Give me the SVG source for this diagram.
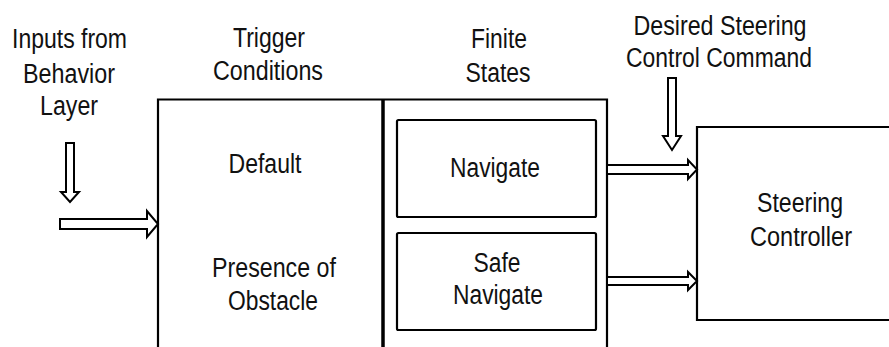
<svg xmlns="http://www.w3.org/2000/svg" width="889" height="347" viewBox="0 0 889 347">
<style>
.t{font-family:"Liberation Sans",Arial,sans-serif;font-size:27px;fill:#111;text-anchor:middle}
.b{fill:none;stroke:#000;stroke-width:2.2}
.a{fill:#fff;stroke:#000;stroke-width:2;stroke-linejoin:miter}
</style>
<rect width="889" height="347" fill="#fff"/>
<g id="labels">
<text class="t" x="69.5" y="48" textLength="115" lengthAdjust="spacingAndGlyphs">Inputs from</text>
<text class="t" x="69" y="83" textLength="92" lengthAdjust="spacingAndGlyphs">Behavior</text>
<text class="t" x="69" y="115" textLength="58" lengthAdjust="spacingAndGlyphs">Layer</text>
<text class="t" x="269" y="47" textLength="72" lengthAdjust="spacingAndGlyphs">Trigger</text>
<text class="t" x="268" y="80" textLength="110" lengthAdjust="spacingAndGlyphs">Conditions</text>
<text class="t" x="499" y="48" textLength="56" lengthAdjust="spacingAndGlyphs">Finite</text>
<text class="t" x="498" y="82" textLength="65" lengthAdjust="spacingAndGlyphs">States</text>
<text class="t" x="720" y="35" textLength="173" lengthAdjust="spacingAndGlyphs">Desired Steering</text>
<text class="t" x="719" y="67" textLength="186" lengthAdjust="spacingAndGlyphs">Control Command</text>
</g>
<g id="trigger-box">
<path class="b" d="M158,347 V99.5 H383"/>
<text class="t" x="265" y="173" textLength="73" lengthAdjust="spacingAndGlyphs">Default</text>
<text class="t" x="274" y="277" textLength="124" lengthAdjust="spacingAndGlyphs">Presence of</text>
<text class="t" x="273" y="310" textLength="90" lengthAdjust="spacingAndGlyphs">Obstacle</text>
</g>
<g id="states-box">
<path class="b" d="M383,99.5 H607 V347"/>
<line x1="383" y1="99" x2="383" y2="347" stroke="#000" stroke-width="3.5"/>
</g>
<g id="navigate">
<rect class="b" x="397" y="120" width="199" height="97" rx="1.5"/>
<text class="t" x="495" y="177" textLength="90" lengthAdjust="spacingAndGlyphs">Navigate</text>
</g>
<g id="safe-navigate">
<rect class="b" x="397" y="233" width="199" height="97" rx="1.5"/>
<text class="t" x="497" y="272" textLength="47" lengthAdjust="spacingAndGlyphs">Safe</text>
<text class="t" x="498" y="304" textLength="90" lengthAdjust="spacingAndGlyphs">Navigate</text>
</g>
<g id="steering-controller">
<path class="b" d="M889,127 H697 V320 H889"/>
<text class="t" x="800" y="212" textLength="86" lengthAdjust="spacingAndGlyphs">Steering</text>
<text class="t" x="801" y="246" textLength="102" lengthAdjust="spacingAndGlyphs">Controller</text>
</g>
<g id="connectors">
<polygon class="a" points="66,143 74,143 74,192 79,192 70,202 61,192 66,192"/>
<polygon class="a" points="60,219 147,219 147,211 158,224 147,237 147,229 60,229"/>
<polygon class="a" points="668,78 676,78 676,136 681,136 672,150 663,136 668,136"/>
<polygon class="a" points="607,165 688,165 688,160 697,169.5 688,179 688,174 607,174"/>
<polygon class="a" points="607,277 688,277 688,272 697,281 688,290 688,285 607,285"/>
</g>
</svg>
